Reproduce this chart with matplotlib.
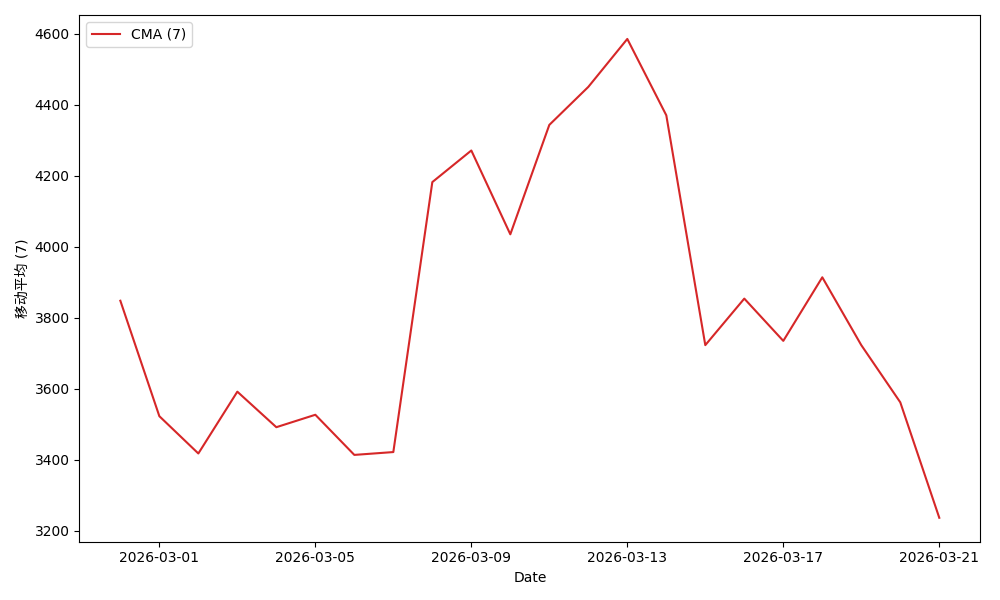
import matplotlib
matplotlib.use('Agg')
import matplotlib.pyplot as plt
import matplotlib.dates as mdates
import pandas as pd

plt.rcParams['font.family'] = ['DejaVu Sans', 'Noto Sans CJK SC']

dates = pd.date_range('2026-02-28', '2026-03-21', freq='D')
cma_values = [3848, 3523, 3418, 3592, 3492, 3527, 3414, 3422, 4182, 4271, 4035,
              4343, 4450, 4585, 4370, 3723, 3854, 3735, 3914, 3723, 3562, 3237]

fig, ax = plt.subplots(figsize=(10, 6))
ax.plot(dates, cma_values, color='#d62728', label='CMA (7)')

ax.xaxis.set_major_locator(mdates.DayLocator(interval=4, bymonthday=None))
ax.set_xticks(pd.date_range('2026-03-01', '2026-03-21', freq='4D'))
ax.xaxis.set_major_formatter(mdates.DateFormatter('%Y-%m-%d'))

ax.set_xlabel('Date')
ax.set_ylabel('移动平均 (7)')
ax.legend(loc='upper left')

plt.tight_layout()
plt.savefig('out.png', dpi=100)
